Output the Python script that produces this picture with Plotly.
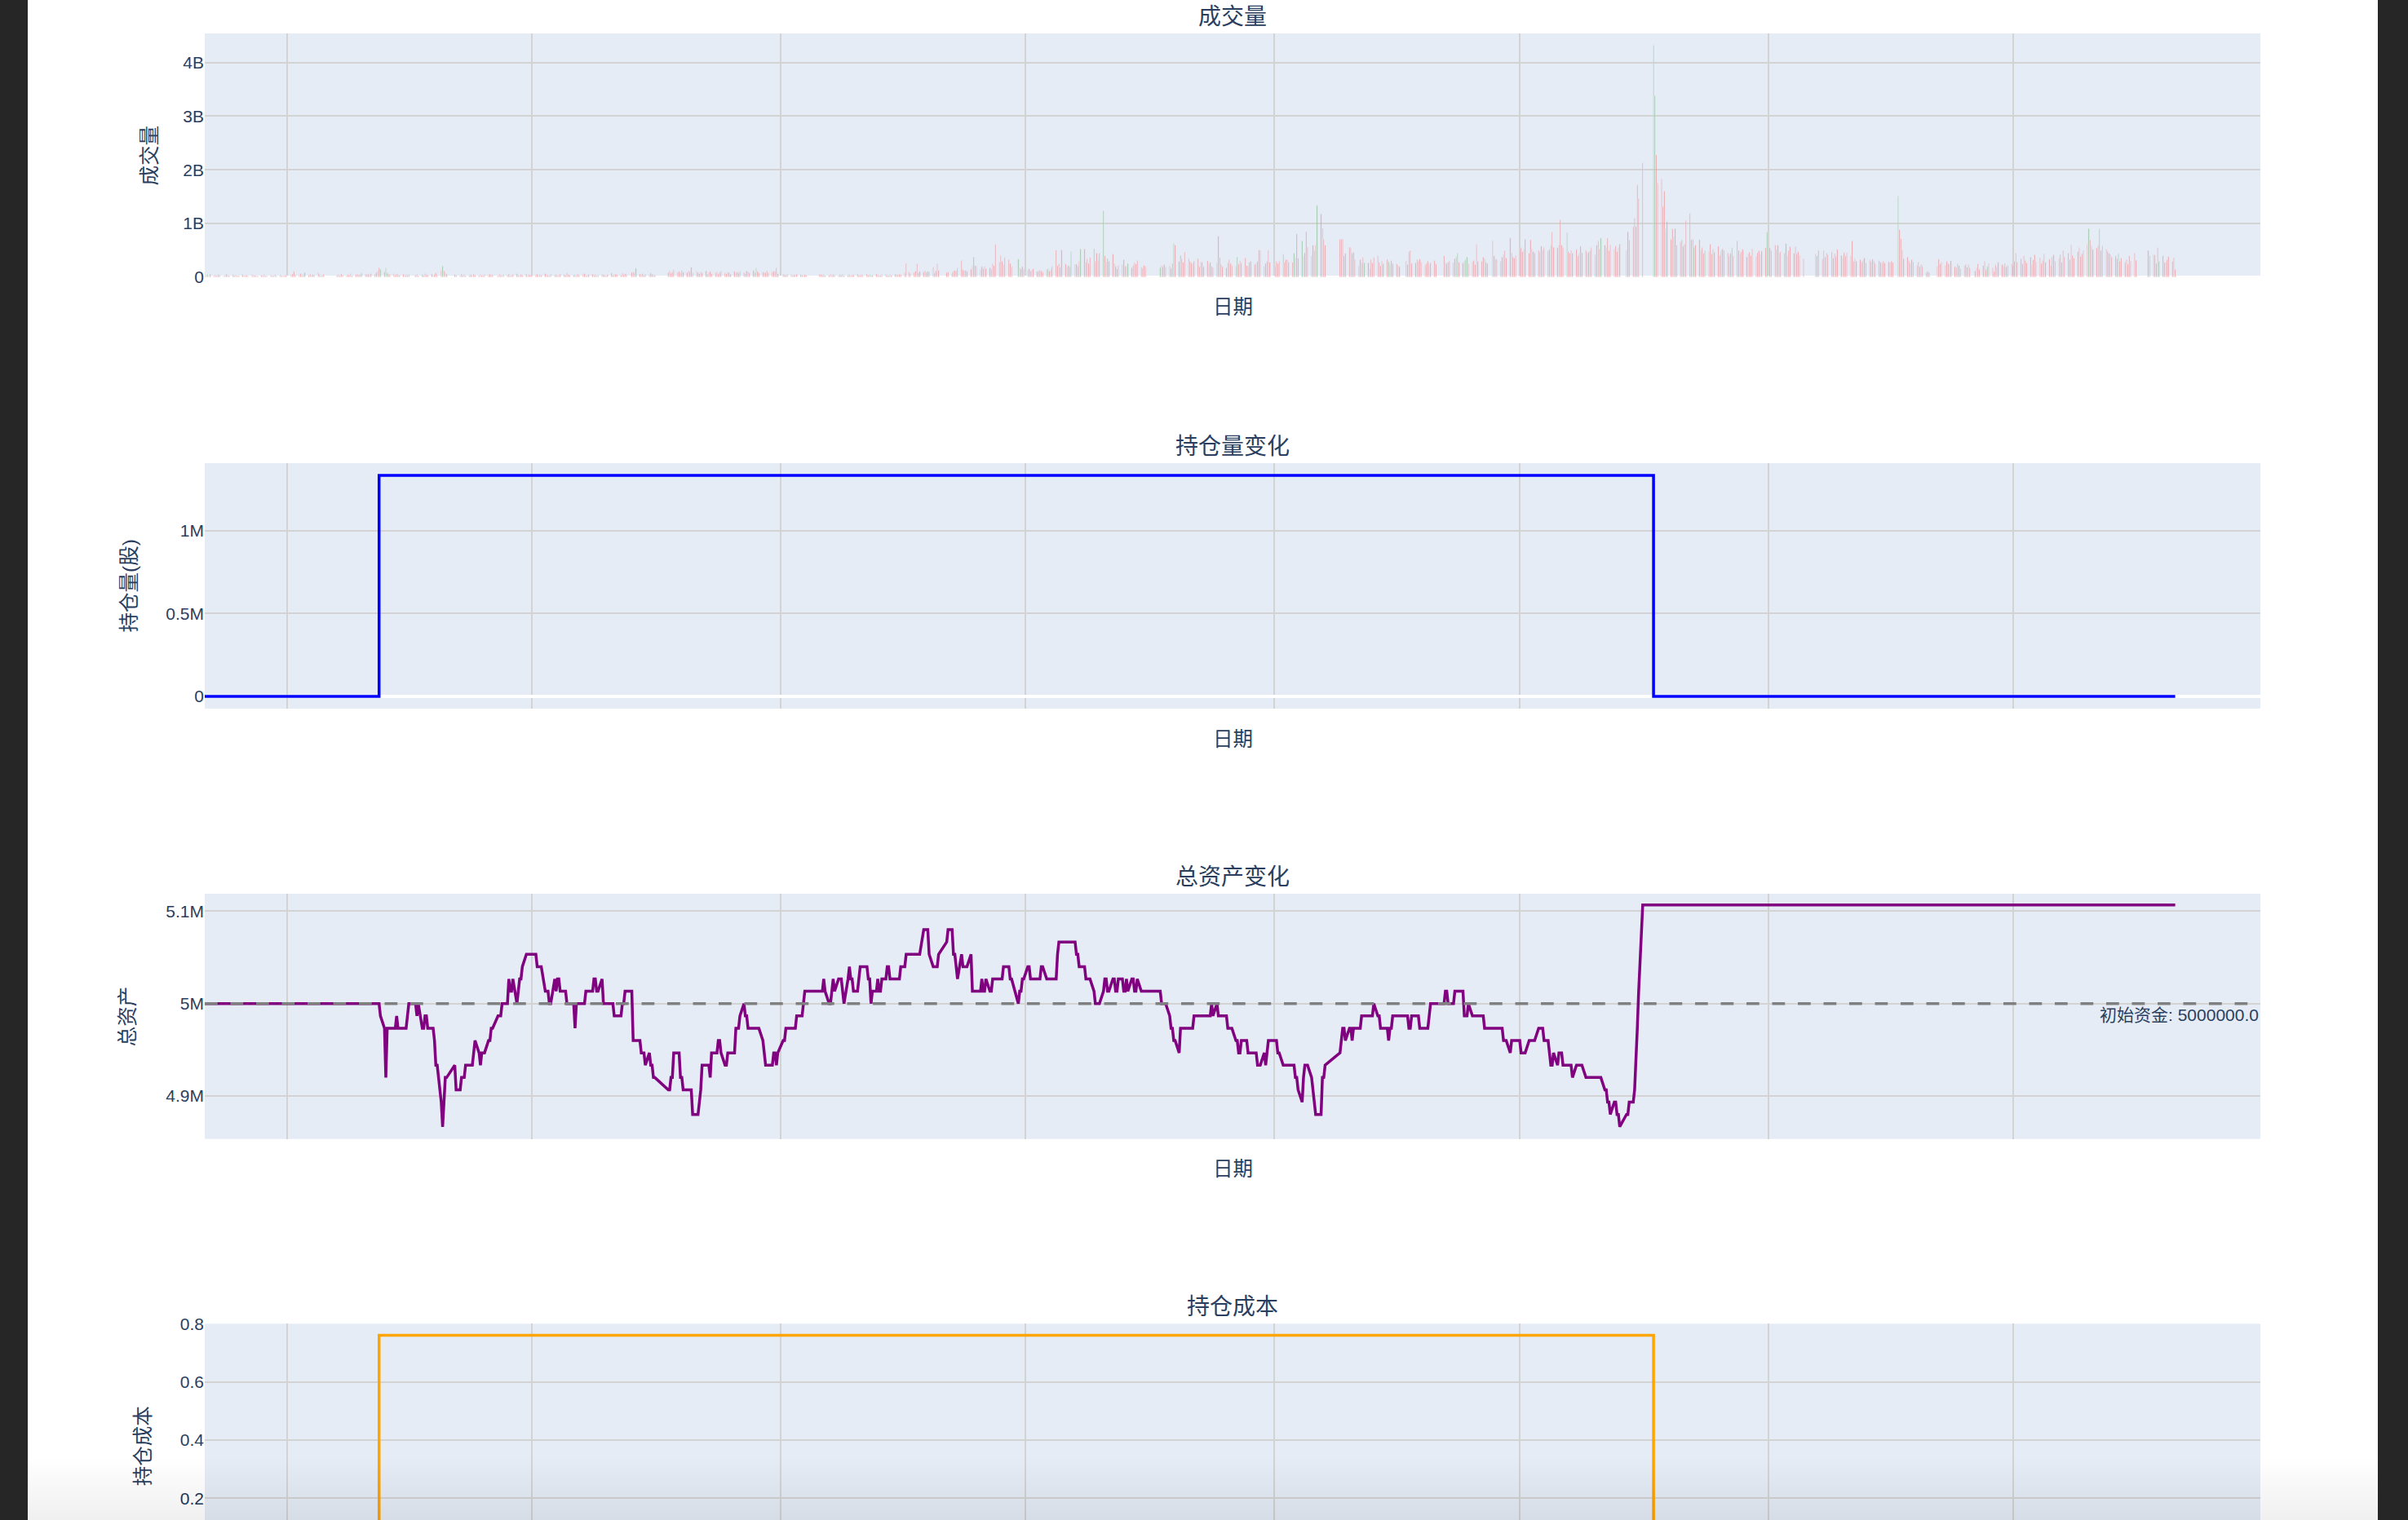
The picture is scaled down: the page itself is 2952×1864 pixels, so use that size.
import pandas as pd
import plotly.graph_objects as go
from plotly.subplots import make_subplots

# ---------------------------------------------------------------- data
START_DATE = "2021-11-01"
END_DATE = "2025-10-29"
X_RANGE = ["2021-11-01", "2025-12-31"]

# weekday market closures (Shanghai / Shenzhen)
HOLIDAY_RANGES = [
    ("2022-01-03", "2022-01-03"), ("2022-01-31", "2022-02-04"), ("2022-04-04", "2022-04-05"),
    ("2022-05-02", "2022-05-04"), ("2022-06-03", "2022-06-03"), ("2022-09-12", "2022-09-12"),
    ("2022-10-03", "2022-10-07"),
    ("2023-01-02", "2023-01-02"), ("2023-01-23", "2023-01-27"), ("2023-04-05", "2023-04-05"),
    ("2023-05-01", "2023-05-03"), ("2023-06-22", "2023-06-23"), ("2023-09-29", "2023-10-06"),
    ("2024-01-01", "2024-01-01"), ("2024-02-09", "2024-02-16"), ("2024-04-04", "2024-04-05"),
    ("2024-05-01", "2024-05-03"), ("2024-06-10", "2024-06-10"), ("2024-09-16", "2024-09-17"),
    ("2024-10-01", "2024-10-07"),
    ("2025-01-01", "2025-01-01"), ("2025-01-28", "2025-02-04"), ("2025-04-04", "2025-04-04"),
    ("2025-05-01", "2025-05-05"), ("2025-06-02", "2025-06-02"), ("2025-10-01", "2025-10-08"),
]

# daily volume, unit = 10,000,000 shares, one list per month
VOLUME_2021 = [
    [4, 3, 5, 2, 6, 3, 4, 3, 5, 4, 2, 3, 6, 4, 3, 5, 3, 4, 2, 3, 5, 3],
    [3, 4, 2, 5, 3, 4, 3, 2, 4, 3, 5, 3, 2, 4, 3, 3, 5, 2, 4, 3, 2, 3, 4],
]
VOLUME_2022 = [
    [4, 6, 11, 5, 4, 7, 3, 5, 9, 4, 6, 3, 5, 4, 8, 5, 3, 4, 6],
    [4, 5, 3, 6, 4, 3, 5, 4, 7, 3, 5, 6, 4, 5, 8, 6],
    [5, 6, 4, 7, 5, 9, 12, 18, 15, 10, 17, 8, 6, 5, 7, 4, 6, 5, 4, 6, 3, 5, 4],
    [5, 4, 6, 3, 5, 4, 7, 5, 4, 6, 3, 5, 8, 4, 13, 21, 12, 9, 6],
    [5, 4, 3, 6, 4, 5, 3, 4, 5, 3, 6, 4, 3, 5, 4, 3, 5, 4, 6],
    [4, 5, 3, 6, 4, 3, 5, 4, 6, 3, 4, 5, 7, 4, 3, 5, 4, 6, 3, 5, 4],
    [5, 4, 6, 3, 5, 4, 7, 5, 4, 3, 6, 4, 5, 3, 4, 6, 5, 4, 8, 5, 4],
    [4, 5, 3, 6, 4, 5, 7, 4, 3, 5, 6, 4, 5, 3, 4, 6, 5, 4, 3, 5, 8, 4, 5],
    [6, 5, 4, 8, 5, 7, 6, 9, 10, 8, 17, 6, 5, 7, 4, 6, 5, 8, 6, 5, 4],
    [9, 12, 8, 10, 14, 9, 11, 8, 13, 10, 9, 12, 10, 19, 8, 11],
    [9, 7, 10, 8, 12, 6, 9, 11, 7, 8, 10, 6, 9, 12, 8, 7, 10, 9, 6, 11, 8, 10],
    [8, 11, 9, 7, 12, 10, 8, 13, 9, 17, 11, 8, 10, 9, 9, 12, 8, 10, 11, 11, 18, 7],
]
VOLUME_2023 = [
    [6, 5, 4, 6, 5, 3, 5, 4, 6, 5, 4, 3, 5, 4, 6, 5],
    [4, 5, 3, 4, 6, 3, 5, 4, 3, 5, 4, 6, 3, 4, 5, 3, 4, 5, 6, 4],
    [4, 5, 3, 6, 4, 5, 3, 4, 6, 5, 3, 4, 5, 6, 4, 3, 5, 4, 6, 5, 4, 6, 5],
    [8, 26, 10, 7, 9, 12, 25, 8, 11, 10, 12, 9, 11, 10, 19, 8, 12, 25, 13],
    [9, 10, 8, 11, 13, 12, 17, 31, 14, 12, 13, 11, 15, 20, 38, 22, 20, 14, 20, 16],
    [20, 16, 18, 15, 25, 22, 61, 28, 41, 30, 24, 37, 33, 26, 20, 34, 18, 16, 20, 15],
    [14, 16, 12, 13, 16, 11, 12, 13, 12, 10, 14, 16, 12, 15, 20, 51, 22, 25, 19, 51, 25],
    [18, 22, 20, 48, 24, 25, 21, 30, 53, 53, 28, 35, 26, 37, 53, 30, 45, 32, 45, 124, 40, 28, 35],
    [30, 43, 25, 20, 16, 22, 24, 33, 21, 20, 26, 18, 22, 27, 25, 31, 19, 17, 22, 20],
    [18, 22, 20, 24, 19, 21, 17, 26, 63, 60, 30, 41, 35, 28, 47, 34, 30],
    [27, 25, 30, 35, 20, 29, 28, 20, 31, 25, 28, 20, 18, 27, 77, 37, 24, 20, 18, 27, 33, 26],
    [22, 20, 38, 25, 30, 27, 36, 22, 20, 28, 30, 24, 26, 30, 51, 50, 20, 26, 30, 50, 28],
]
VOLUME_2024 = [
    [20, 30, 26, 30, 43, 28, 33, 33, 28, 28, 45, 36, 81, 36, 68, 40, 46, 85, 56, 40, 60, 50],
    [60, 134, 118, 91, 71, 60, 71, 71, 71, 40, 45, 56, 55, 45, 47],
    [33, 20, 33, 27, 37, 27, 27, 16, 33, 27, 37, 40, 28, 22, 30, 25, 33, 29, 24, 31, 26],
    [25, 22, 20, 30, 24, 48, 50, 26, 27, 33, 30, 34, 28, 22, 26, 30, 24, 27, 31, 25],
    [40, 27, 26, 28, 30, 27, 35, 38, 45, 28, 27, 30, 33, 38, 26, 29, 31, 24, 61, 30],
    [30, 38, 35, 28, 26, 68, 40, 35, 33, 30, 38, 42, 50, 36, 73, 45, 38, 36, 40],
    [50, 55, 48, 52, 71, 45, 70, 52, 48, 45, 50, 47, 58, 50, 55, 49, 52, 60, 84, 56, 55, 60, 107],
    [60, 55, 83, 48, 45, 50, 45, 52, 40, 44, 58, 46, 50, 45, 47, 50, 55, 42, 60, 68, 53, 73],
    [60, 55, 73, 50, 60, 52, 58, 48, 55, 62, 50, 85, 70, 94, 110, 95, 172, 147, 213],
    [432, 338, 228, 175, 183, 132, 161, 90, 104, 71, 90, 75, 91, 60, 66, 70, 58, 62],
    [106, 119, 70, 71, 56, 60, 70, 50, 55, 45, 50, 48, 62, 44, 52, 47, 58, 41, 49, 53, 50],
    [45, 40, 45, 55, 40, 68, 50, 42, 48, 52, 38, 44, 47, 41, 53, 39, 46, 50, 43, 49, 55, 84],
]
VOLUME_2025 = [
    [55, 50, 60, 52, 60, 45, 48, 45, 63, 40, 50, 57, 45, 57, 44, 48, 41, 35],
    [43, 40, 50, 35, 50, 38, 45, 42, 47, 36, 44, 39, 52, 41, 37, 46, 40, 45],
    [40, 68, 30, 35, 30, 33, 28, 31, 36, 27, 32, 29, 34, 30, 26, 31, 28, 25, 30, 27, 29],
    [27, 30, 28, 151, 89, 72, 51, 35, 38, 30, 25, 33, 29, 22, 28, 20, 24, 20, 9, 11, 9],
    [20, 34, 25, 28, 22, 30, 26, 24, 31, 20, 18, 25, 22, 16, 21, 24, 19, 23, 17],
    [12, 18, 25, 15, 22, 30, 14, 20, 26, 17, 11, 23, 19, 28, 24, 21, 26, 20, 22, 25],
    [22, 30, 45, 28, 35, 25, 40, 32, 27, 38, 24, 33, 42, 29, 36, 26, 31, 44, 28, 34, 22, 38, 42],
    [30, 35, 42, 28, 50, 38, 45, 33, 60, 41, 36, 48, 55, 39, 44, 50, 61, 91, 70, 58, 52],
    [55, 60, 90, 50, 58, 52, 48, 45, 42, 38, 40, 35, 44, 30, 36, 28, 33, 25, 40, 30, 45, 32],
    [50, 40, 42, 41, 26, 55, 30, 40, 28, 28, 33, 39, 30, 36, 15],
]
VOLUME_UNIT = 10_000_000

# days that closed below their open (green volume bars)
DOWN_DAYS = [
    "2021-11-01", "2021-11-03", "2021-11-04", "2022-01-14", "2022-01-27", "2022-03-07",
    "2022-03-11", "2022-03-15", "2022-03-16", "2022-04-12", "2022-04-26", "2022-08-02",
    "2022-09-16", "2022-09-29", "2022-12-14", "2023-02-16", "2023-03-08", "2023-03-23",
    "2023-04-21", "2023-05-08", "2023-05-12", "2023-05-24", "2023-06-26", "2023-07-18",
    "2023-08-04", "2023-08-11", "2023-08-21", "2023-08-28", "2023-08-31", "2023-09-07",
    "2023-09-15", "2023-10-09", "2023-10-19", "2023-10-24", "2023-11-28", "2023-12-05",
    "2024-01-08", "2024-01-16", "2024-01-22", "2024-02-02", "2024-03-08", "2024-03-22",
    "2024-03-26", "2024-04-15", "2024-05-16", "2024-05-22", "2024-05-23", "2024-06-05",
    "2024-07-24", "2024-08-05", "2024-08-30", "2024-10-08", "2024-10-09", "2024-10-17",
    "2024-10-29", "2024-11-07", "2024-11-15", "2024-12-05", "2024-12-31", "2025-01-14",
    "2025-02-06", "2025-02-24", "2025-04-07", "2025-05-22", "2025-06-12", "2025-08-26",
    "2025-09-03", "2025-09-17", "2025-10-10", "2025-10-17",
]

# closing price while the position is held, in cents, one list per month
HOLD_CLOSE_2022 = [
    [76, 75, 74, 70, 74, 74, 74, 74, 74, 75, 74, 74, 74, 74, 74, 75],
    [76, 76, 75, 76, 74, 74, 75, 75, 74, 74, 74, 73, 71, 71, 68, 66, 68, 70, 70],
    [71, 69, 69, 70, 70, 70, 71, 71, 71, 71, 72, 73, 72, 71, 72, 72, 72, 73, 73],
    [74, 74, 75, 75, 75, 76, 76, 76, 78, 77, 77, 78, 76, 77, 78, 78, 79, 80, 80, 80, 80],
    [80, 80, 79, 79, 79, 79, 77, 77, 77, 76, 76, 78, 77, 78, 78, 77, 77, 77, 76, 76, 76],
    [76, 74, 76, 76, 76, 76, 76, 77, 77, 77, 77, 78, 78, 77, 77, 78, 76, 76, 76, 76, 76, 76, 75],
    [75, 75, 75, 76, 76, 77, 77, 77, 73, 73, 73, 73, 72, 72, 72, 71, 72, 71, 71, 70, 70],
    [69, 69, 70, 70, 72, 72, 72, 70, 70, 69, 69, 69, 69, 69, 67, 67],
    [67, 68, 69, 71, 71, 71, 71, 70, 72, 72, 72, 73, 73, 72, 71, 71, 72, 72, 72, 72, 74, 74],
    [74, 75, 76, 75, 75, 74, 74, 74, 74, 74, 74, 74, 73, 72, 71, 71, 71, 71, 72, 72, 71, 72],
]
HOLD_CLOSE_2023 = [
    [73, 73, 74, 74, 74, 74, 74, 74, 75, 75, 75, 76, 77, 77, 77, 77],
    [77, 78, 77, 76, 76, 77, 78, 77, 78, 78, 78, 77, 76, 78, 79, 78, 78, 77, 77, 78],
    [79, 79, 79, 79, 78, 78, 76, 77, 77, 78, 77, 77, 78, 78, 79, 79, 78, 78, 78, 78, 78, 78, 79],
    [79, 80, 80, 80, 80, 80, 80, 80, 80, 82, 82, 82, 82, 80, 79, 79, 79, 79, 80],
    [81, 82, 82, 80, 80, 79, 78, 80, 79, 79, 79, 79, 80, 77, 77, 77, 77, 77, 78, 77],
    [77, 78, 77, 77, 78, 78, 78, 78, 78, 78, 79, 79, 79, 78, 78, 76, 77, 77, 78, 78],
    [79, 79, 78, 78, 78, 78, 78, 78, 79, 79, 78, 78, 78, 78, 78, 78, 80, 81, 81, 81, 81],
    [81, 81, 81, 81, 81, 80, 80, 79, 79, 79, 78, 78, 78, 78, 77, 76, 76, 76, 76, 77, 78, 78, 77],
    [77, 78, 78, 77, 77, 78, 78, 77, 77, 78, 77, 78, 78, 77, 77, 78, 77, 77, 77, 77],
    [77, 76, 76, 76, 76, 75, 74, 74, 73, 73, 72, 74, 74, 74, 74, 74, 74],
    [74, 74, 75, 75, 75, 75, 75, 75, 75, 75, 75, 76, 75, 76, 75, 75, 75, 75, 75, 74, 74, 74],
    [74, 73, 73, 72, 72, 73, 73, 73, 72, 72, 72, 72, 72, 71, 71, 71, 72, 71, 72, 73, 73],
]
HOLD_CLOSE_2024 = [
    [73, 73, 72, 72, 71, 71, 71, 71, 71, 71, 71, 70, 70, 69, 68, 70, 71, 71, 71, 70, 69, 68],
    [67, 67, 67, 70, 70, 71, 72, 73, 74, 74, 73, 74, 74, 73, 74],
    [74, 74, 74, 75, 75, 75, 75, 75, 75, 75, 76, 75, 75, 74, 74, 74, 74, 73, 74, 74, 75],
    [75, 75, 75, 75, 75, 74, 74, 75, 75, 75, 75, 74, 74, 74, 74, 74, 75, 76, 76, 76],
    [76, 77, 77, 76, 76, 76, 77, 77, 77, 77, 77, 75, 75, 75, 76, 75, 75, 75, 75, 75],
    [75, 75, 74, 74, 74, 74, 74, 74, 74, 74, 74, 73, 73, 73, 72, 73, 73, 73, 73],
    [73, 72, 72, 72, 72, 73, 73, 73, 73, 73, 74, 74, 74, 74, 73, 73, 72, 71, 71, 72, 71, 72, 72],
    [72, 71, 71, 71, 71, 71, 70, 71, 71, 71, 71, 71, 70, 70, 70, 70, 70, 70, 70, 70, 70, 70],
    [69, 69, 68, 68, 67, 68, 68, 67, 67, 66, 67, 67, 68, 68, 69, 71, 74, 77, 84],
]

INITIAL_CASH = 5_000_000.0
BUY_DATE = "2022-03-10"
SELL_DATE = "2024-10-08"
SHARES = 1_333_300
BUY_COST = 0.76
SELL_PRICE = 0.84

SUBPLOT_TITLES = ["成交量", "持仓量变化", "总资产变化", "持仓成本"]
Y_TITLES = ["成交量", "持仓量(股)", "总资产", "持仓成本"]
X_TITLE = "日期"
HLINE_TEXT = "初始资金: 5000000.0"

# ---------------------------------------------------------------- calendar
closed = set()
for a, b in HOLIDAY_RANGES:
    closed.update(pd.date_range(a, b))
days = [d for d in pd.bdate_range(START_DATE, END_DATE) if d not in closed]
by_month = {}
for d in days:
    by_month.setdefault((d.year, d.month), []).append(d)


def spread(per_year, day_filter=None):
    out = {}
    for year, months in per_year:
        keys = sorted(k for k in by_month if k[0] == year)
        month_days = [[d for d in by_month[k] if day_filter is None or day_filter(d)] for k in keys]
        month_days = [m for m in month_days if m]
        for mdays, vals in zip(month_days, months):
            for d, v in zip(mdays, vals):
                out[d] = v
    return out


volume = spread([(2021, VOLUME_2021), (2022, VOLUME_2022), (2023, VOLUME_2023),
                 (2024, VOLUME_2024), (2025, VOLUME_2025)])
buy_ts, sell_ts = pd.Timestamp(BUY_DATE), pd.Timestamp(SELL_DATE)
close = spread([(2022, HOLD_CLOSE_2022), (2023, HOLD_CLOSE_2023), (2024, HOLD_CLOSE_2024)],
               day_filter=lambda d: buy_ts <= d < sell_ts)
down = set(pd.to_datetime(DOWN_DAYS))

vol_x = sorted(volume)
vol_y = [volume[d] * VOLUME_UNIT for d in vol_x]
vol_c = ["green" if d in down else "red" for d in vol_x]

cash_after_buy = INITIAL_CASH - SHARES * BUY_COST
final_cash = cash_after_buy + SHARES * SELL_PRICE
pos_y, cost_y, asset_y = [], [], []
last_close = BUY_COST * 100
for d in days:
    if d < buy_ts:
        pos_y.append(0); cost_y.append(0.0); asset_y.append(INITIAL_CASH)
    elif d < sell_ts:
        last_close = close.get(d, last_close)
        pos_y.append(SHARES); cost_y.append(BUY_COST)
        asset_y.append(cash_after_buy + SHARES * last_close / 100.0)
    else:
        pos_y.append(0); cost_y.append(0.0); asset_y.append(final_cash)

# ---------------------------------------------------------------- figure
FIG_W, FIG_H = 2952, 1864
ML, MR, MT, MB = 251, 181, 41, 0
PW, PH = FIG_W - ML - MR, FIG_H - MT - MB
FONT = "Liberation Sans, Arial, Noto Sans CJK SC, sans-serif"
TXT = "#2a3f5f"


def yp(px):
    return (FIG_H - MB - px) / PH


def xp(px):
    return (px - ML) / PW


# plot rows in page pixels: top, visible bottom, full-row bottom (row 4 runs off the page)
ROW_PX = [(41, 340, 340), (568, 869, 869), (1096, 1396.7, 1396.7), (1623.3, FIG_H, 1923.3)]
domains = [[yp(b), yp(t)] for t, b, _ in ROW_PX]
Y_TITLE_X = [183, 158, 156, 175]

fig = make_subplots(rows=4, cols=1)
fig.add_trace(go.Bar(x=vol_x, y=vol_y, marker=dict(color=vol_c, line=dict(color="#E5ECF6", width=0.875)),
                     opacity=0.5, showlegend=False), row=1, col=1)
fig.add_trace(go.Scatter(x=days, y=pos_y, mode="lines", line=dict(color="blue", width=3.5, shape="hv"),
                         showlegend=False), row=2, col=1)
fig.add_trace(go.Scatter(x=days, y=asset_y, mode="lines", line=dict(color="purple", width=3.5),
                         showlegend=False), row=3, col=1)
fig.add_trace(go.Scatter(x=days, y=cost_y, mode="lines", line=dict(color="orange", width=3.5, shape="hv"),
                         showlegend=False), row=4, col=1)

fig.add_hline(y=INITIAL_CASH, row=3, col=1, line=dict(color="gray", width=3.5, dash="15.75px,15.75px"),
              annotation_text=HLINE_TEXT, annotation_position="bottom right",
              annotation_font=dict(size=21, color=TXT, family=FONT))

# full value span of each row (row 4 is cut by the page edge)
full_ranges = [[0, 4.54e9], [-73800, 1406800], [4853500, 5118900], [-0.0417, 0.8002]]
y_ranges = []
for (t, b, fb), (lo, hi) in zip(ROW_PX, full_ranges):
    y_ranges.append([hi - (hi - lo) * (b - t) / (fb - t), hi])
y_dticks = [1e9, 5e5, 1e5, 0.2]
for i in range(4):
    n = "" if i == 0 else str(i + 1)
    fig.layout["xaxis" + n].update(
        domain=[0, 1], type="date", range=X_RANGE, showticklabels=False, ticks="",
        dtick="M6", tick0="2022-01-01", showgrid=True, gridcolor="lightgray", gridwidth=1.75,
        zeroline=False, automargin=False,
    )
    fig.layout["yaxis" + n].update(
        domain=domains[i], range=y_ranges[i], dtick=y_dticks[i], showgrid=True,
        gridcolor="lightgray", gridwidth=1.75, zeroline=True, zerolinecolor="white",
        zerolinewidth=3.5, tickfont=dict(size=21), automargin=False,
    )

for i, (t, b, fb) in enumerate(ROW_PX):
    fig.add_annotation(text=SUBPLOT_TITLES[i], x=0.5, xref="paper", y=yp(t - 20.5), yref="paper",
                       xanchor="center", yanchor="middle", showarrow=False, font=dict(size=28))
    fig.add_annotation(text=Y_TITLES[i], x=xp(Y_TITLE_X[i]), xref="paper", y=yp((t + fb) / 2),
                       yref="paper", xanchor="center", yanchor="middle", textangle=-90,
                       showarrow=False, font=dict(size=24.5))
    if fb + 37 < FIG_H:
        fig.add_annotation(text=X_TITLE, x=0.5, xref="paper", y=yp(fb + 37), yref="paper",
                           xanchor="center", yanchor="middle", showarrow=False, font=dict(size=24.5))

# screenshot frame: dark side bars and the soft shadow at the bottom edge
shapes = [
    dict(type="rect", xref="paper", yref="paper", x0=xp(0), x1=xp(34), y0=yp(FIG_H), y1=yp(0),
         fillcolor="#262626", line_width=0, layer="above"),
    dict(type="rect", xref="paper", yref="paper", x0=xp(2915), x1=xp(FIG_W), y0=yp(FIG_H), y1=yp(0),
         fillcolor="#262626", line_width=0, layer="above"),
]
for ys in range(1790, FIG_H, 5):
    shapes.append(dict(type="rect", xref="paper", yref="paper", x0=xp(34), x1=xp(2915), y0=yp(FIG_H),
                       y1=yp(ys), fillcolor="black", opacity=0.0055, line_width=0, layer="above"))
fig.update_layout(shapes=list(fig.layout.shapes) + shapes)

fig.update_layout(
    width=FIG_W, height=FIG_H, margin=dict(l=ML, r=MR, t=MT, b=MB, pad=0, autoexpand=False),
    template="plotly", paper_bgcolor="white", plot_bgcolor="#E5ECF6",
    font=dict(family=FONT, color=TXT, size=21), showlegend=False, bargap=0.2,
)

fig.write_html("out.html", config={"displayModeBar": False},
               post_script="document.body.style.margin='0';document.body.style.overflow='hidden';")
